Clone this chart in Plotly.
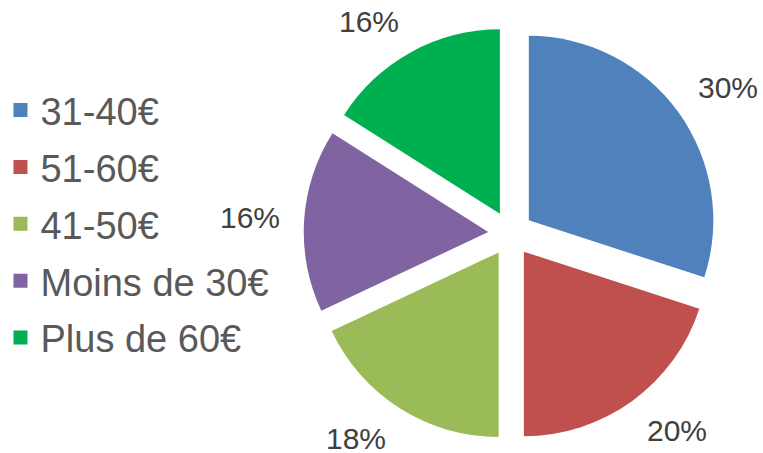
import math
import plotly.graph_objects as go

categories = ["31-40€", "51-60€", "41-50€", "Moins de 30€", "Plus de 60€"]
values = [30, 20, 18, 16, 16]
colors = ["#4F81BD", "#C0504D", "#9BBB59", "#8064A2", "#00B050"]

W, H = 763, 453
PULL = 0.1216
# pie centre / radius in pixels (layout settings)
CX, CY, R = 510, 233.5, 185
HALF = R * (1 + PULL)
LABEL_DX = 231   # horizontal reach of label edge
LABEL_DY = 229   # vertical reach of label edge
LABEL_H = 23

fig = go.Figure()
fig.add_trace(go.Pie(
    labels=categories,
    values=values,
    sort=False,
    direction="clockwise",
    rotation=0,
    pull=[PULL] * len(values),
    marker=dict(colors=colors, line=dict(width=0)),
    textinfo="none",
    showlegend=False,
    domain=dict(x=[(CX - HALF) / W, (CX + HALF) / W],
                y=[(H - CY - HALF) / H, (H - CY + HALF) / H]),
    hoverinfo="label+percent",
))

for i, (c, col) in enumerate(zip(categories, colors)):
    fig.add_trace(go.Scatter(
        x=[None], y=[None], mode="markers", name=c,
        marker=dict(symbol="square", size=14, color=col),
        legendgroup=f"g{i}", showlegend=True,
    ))

# percentage labels placed around the pie, derived from the values
total = sum(values)
cum = 0
annotations = []
for v in values:
    mid = (cum + v / 2) / total * 2 * math.pi
    cum += v
    dx, dy = math.sin(mid), -math.cos(mid)  # screen coords, y down
    px = CX + LABEL_DX * dx
    py = CY + LABEL_DY * dy + (LABEL_H / 2) * max(-1.0, min(1.0, dy / 0.5))
    xanchor = "left" if dx > 0.05 else ("right" if dx < -0.05 else "center")
    annotations.append(dict(
        x=px / W, y=1 - py / H, xref="paper", yref="paper",
        text=f"{round(v / total * 100)}%", showarrow=False,
        xanchor=xanchor, yanchor="middle",
        font=dict(family="Liberation Sans, Arial", size=30, color="#404040"),
        borderpad=0,
    ))

fig.update_layout(
    width=W, height=H,
    margin=dict(l=0, r=0, t=0, b=0),
    paper_bgcolor="white", plot_bgcolor="white",
    xaxis=dict(visible=False), yaxis=dict(visible=False),
    annotations=annotations,
    legend=dict(
        x=-0.002, y=0.826, xanchor="left", yanchor="top",
        font=dict(family="Liberation Sans, Arial", size=38, color="#595959"),
        tracegroupgap=4.5,
        bgcolor="rgba(0,0,0,0)",
    ),
)

fig.write_html("out.html", config={"displayModeBar": False},
               post_script="document.body.style.margin='0';")
